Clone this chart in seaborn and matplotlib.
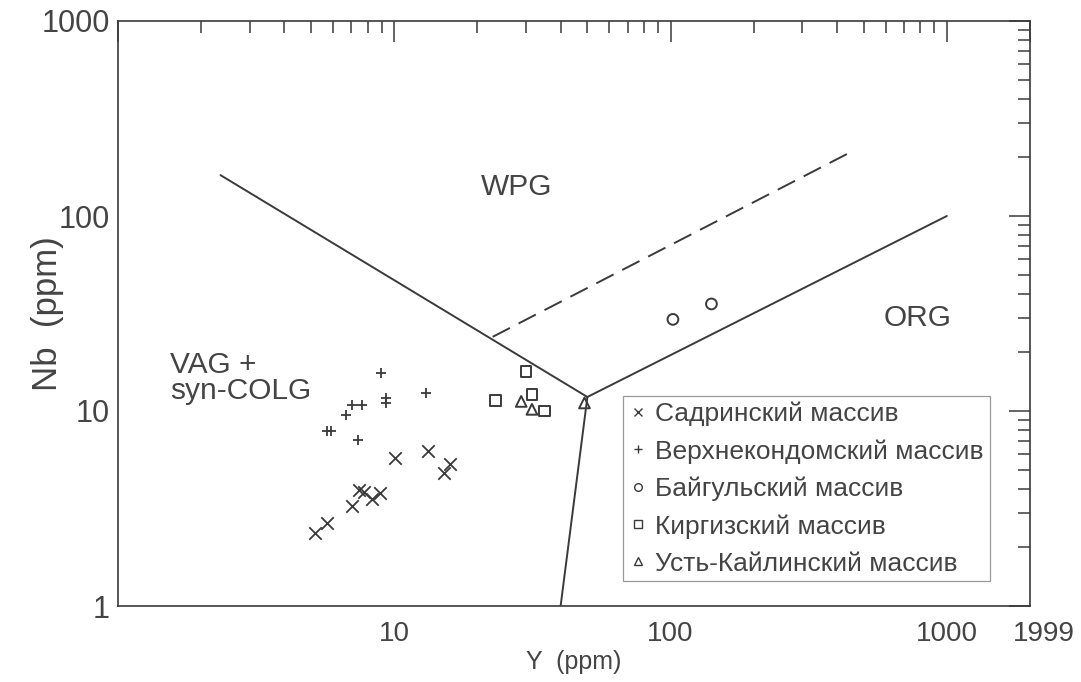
import numpy as np
import pandas as pd
import matplotlib
matplotlib.use("Agg")
import matplotlib.pyplot as plt
import matplotlib.transforms as mtransforms
from matplotlib.lines import Line2D
from matplotlib.ticker import FixedLocator, FixedFormatter, LogLocator, NullFormatter
import seaborn as sns

# ---------------- data (Y ppm, Nb ppm) ----------------
sadrin_y = [10.06, 13.2, 15.9, 15.1, 7.45, 7.77, 8.87, 8.33, 7.05, 5.69, 5.16]
sadrin_nb = [5.72, 6.26, 5.33, 4.83, 3.93, 3.86, 3.81, 3.53, 3.27, 2.67, 2.38]
verkh_y = [8.93, 13.0, 9.30, 9.30, 7.05, 7.66, 6.66, 5.72, 5.91, 7.38]
verkh_nb = [15.7, 12.4, 11.6, 10.95, 10.7, 10.7, 9.54, 7.9, 7.9, 7.10]
baigul_y = [102, 140.6]
baigul_nb = [29.5, 35.4]
kirgiz_y = [30.0, 31.5, 34.9, 23.3]
kirgiz_nb = [15.9, 12.2, 10.0, 11.3]
ustkail_y = [28.8, 31.5, 48.8]
ustkail_nb = [11.2, 10.2, 11.0]

group_names = ["Садринский массив", "Верхнекондомский массив", "Байгульский массив",
               "Киргизский массив", "Усть-Кайлинский массив"]

# discrimination boundaries
wpg_vag_y, wpg_vag_nb = [2.35, 50], [162, 11.8]
vag_org_y, vag_org_nb = [50, 40], [11.8, 1]
org_wpg_y, org_wpg_nb = [50, 1000], [11.8, 100]
dash_y, dash_nb = [22.7, 441], [24.0, 210]

x_ticks = [1, 10, 100, 1000, 2000]
x_tick_labels = ["", "10", "100", "1000", "1999"]
y_ticks = [1, 10, 100, 1000]
y_tick_labels = ["1", "10", "100", "1000"]

# ---------------- style ----------------
sns.set_theme(style="white")
plt.rcParams["font.family"] = ["Liberation Sans", "DejaVu Sans"]
INK = "#3a3a3a"
TXT = "#444444"

fig = plt.figure(figsize=(10.81, 6.82), dpi=100)
ax = fig.add_axes([118 / 1081, 76 / 682, 912 / 1081, 585 / 682])
ax.set_xscale("log")
ax.set_yscale("log")
ax.set_xlim(1, 2000)
ax.set_ylim(1, 1000)

# boundary lines
for xs, ys in [(wpg_vag_y, wpg_vag_nb), (vag_org_y, vag_org_nb), (org_wpg_y, org_wpg_nb)]:
    sns.lineplot(x=xs, y=ys, ax=ax, color=INK, lw=1.4, sort=False, estimator=None)
dl = sns.lineplot(x=dash_y, y=dash_nb, ax=ax, color=INK, lw=1.4, sort=False, estimator=None)
dl.lines[-1].set_dashes((10, 5))

# data points
sns.scatterplot(x=sadrin_y, y=sadrin_nb, ax=ax, marker="x", s=80, color=INK, linewidth=1.3)
sns.scatterplot(x=verkh_y, y=verkh_nb, ax=ax, marker="+", s=60, color=INK, linewidth=1.3)
sns.scatterplot(x=baigul_y, y=baigul_nb, ax=ax, marker="o", s=60, facecolor="none",
                edgecolor=INK, linewidth=1.4)
sns.scatterplot(x=kirgiz_y, y=kirgiz_nb, ax=ax, marker="s", s=60, facecolor="none",
                edgecolor=INK, linewidth=1.4)
sns.scatterplot(x=ustkail_y, y=ustkail_nb, ax=ax, marker="^", s=60, facecolor="none",
                edgecolor=INK, linewidth=1.4)

# region labels
ax.annotate("WPG", xy=(517, 682 - 187), xycoords="figure pixels", ha="center", va="center",
            fontsize=21.5, color=TXT)
ax.annotate("ORG", xy=(918, 682 - 318), xycoords="figure pixels", ha="center", va="center",
            fontsize=21.5, color=TXT)
ax.annotate("VAG +\nsyn-COLG", xy=(170, 682 - 378), xycoords="figure pixels", ha="left",
            va="center", fontsize=21.5, color=TXT, linespacing=0.92)

# axes styling
for sp in ax.spines.values():
    sp.set_color(INK)
    sp.set_linewidth(1.2)
ax.xaxis.set_major_locator(FixedLocator(x_ticks))
ax.xaxis.set_major_formatter(FixedFormatter(x_tick_labels))
ax.yaxis.set_major_locator(FixedLocator(y_ticks))
ax.yaxis.set_major_formatter(FixedFormatter(y_tick_labels))
ax.xaxis.set_minor_locator(LogLocator(base=10, subs=np.arange(2, 10)))
ax.yaxis.set_minor_locator(LogLocator(base=10, subs=np.arange(2, 10)))
ax.xaxis.set_minor_formatter(NullFormatter())
ax.yaxis.set_minor_formatter(NullFormatter())
ax.tick_params(which="both", direction="in", top=True, right=True, color=INK, width=1.1)
ax.tick_params(which="major", length=15)
ax.tick_params(which="minor", length=8.5)
ax.tick_params(axis="x", which="major", labelsize=20, labelcolor=TXT, pad=11)
ax.tick_params(axis="y", which="major", labelsize=22, labelcolor=TXT, pad=6)

ax.set_xlabel("Y  (ppm)", fontsize=18, color=TXT, labelpad=2)
ax.set_ylabel("Nb  (ppm)", fontsize=25, color=TXT)
ax.yaxis.set_label_coords((64 - 118) / 912, 0.5)

fig.canvas.draw()
lbl = ax.xaxis.get_majorticklabels()[-1]
lbl.set_transform(lbl.get_transform() + mtransforms.ScaledTranslation(14 / 100, 0, fig.dpi_scale_trans))

# legend
handles = [
    Line2D([], [], ls="none", marker="x", color=INK, markersize=5.5, mew=1.0),
    Line2D([], [], ls="none", marker="+", color=INK, markersize=5.5, mew=1.0),
    Line2D([], [], ls="none", marker="o", color=INK, markerfacecolor="none", markersize=5.5, mew=1.0),
    Line2D([], [], ls="none", marker="s", color=INK, markerfacecolor="none", markersize=5.5, mew=1.0),
    Line2D([], [], ls="none", marker="^", color=INK, markerfacecolor="none", markersize=5.5, mew=1.0),
]
leg = ax.legend(handles, group_names, loc="upper left", bbox_to_anchor=(0.554, 0.359),
                borderaxespad=0, fontsize=19, frameon=True, fancybox=False, framealpha=1,
                edgecolor="#999999", handlelength=0.7, handletextpad=0.3, labelspacing=0.49,
                borderpad=0.22)
leg.get_frame().set_linewidth(0.9)
for t in leg.get_texts():
    t.set_color(TXT)

fig.savefig("out.png", dpi=100, facecolor="white")
